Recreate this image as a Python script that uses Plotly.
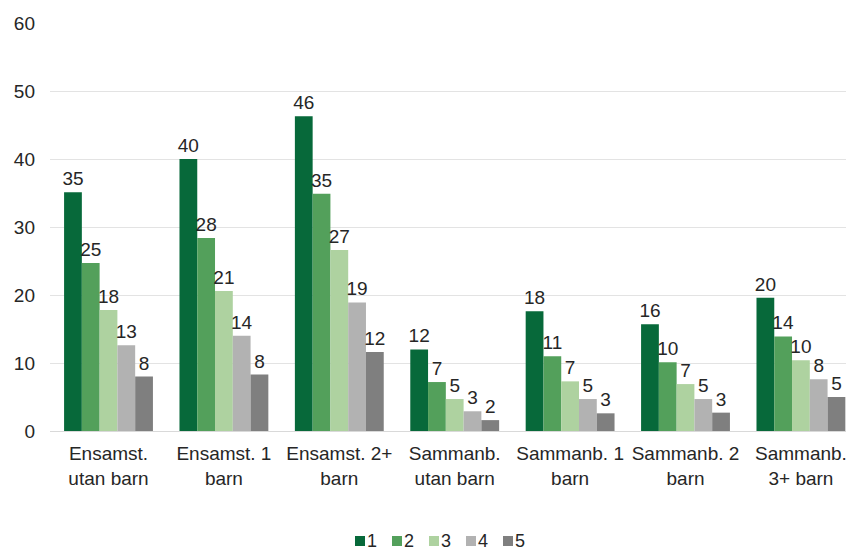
import plotly.graph_objects as go

categories = ["Ensamst.<br>utan barn", "Ensamst. 1<br>barn", "Ensamst. 2+<br>barn",
              "Sammanb.<br>utan barn", "Sammanb. 1<br>barn", "Sammanb. 2<br>barn",
              "Sammanb.<br>3+ barn"]
series_names = ["1", "2", "3", "4", "5"]
s1 = [35.1, 40.0, 46.3, 12.0, 17.6, 15.7, 19.6]
s2 = [24.7, 28.4, 34.9, 7.2, 11.0, 10.1, 13.9]
s3 = [17.8, 20.6, 26.6, 4.7, 7.3, 6.9, 10.4]
s4 = [12.6, 14.0, 18.9, 2.9, 4.7, 4.7, 7.6]
s5 = [8.0, 8.3, 11.6, 1.6, 2.6, 2.7, 5.0]
colors = ["#07693A", "#53A05B", "#AED2A0", "#B2B2B2", "#7F7F7F"]

font_family = "Liberation Sans, Arial, sans-serif"
text_color = "#262626"
FS = 19
LFS = 18

# page body has an 8px margin; figure is sized to fill the remaining window
OFF = 8
W, H = 854 - OFF, 552 - OFF
ML, MT = 50 - OFF, 23 - OFF
MR = 0
MB = H - (431 - OFF)
PW, PH = W - ML - MR, H - MT - MB

def px_x(px):
    return (px - OFF - ML) / PW

def px_y(py):
    return (H - MB - (py - OFF)) / PH

fig = go.Figure()
for name, vals, col in zip(series_names, [s1, s2, s3, s4, s5], colors):
    fig.add_trace(go.Bar(
        x=categories, y=vals, name=name,
        marker=dict(color=col, line=dict(width=0)),
        texttemplate="%{y:.0f}", textposition="outside",
        textfont=dict(size=FS, color=text_color, family=font_family),
        constraintext="none", cliponaxis=False,
        hoverinfo="skip", showlegend=False,
    ))

# compact legend
legend_x0 = 355
legend_pitch = 37
legend_cy = 541
shapes = []
annotations = []
for i, (name, col) in enumerate(zip(series_names, colors)):
    sx = legend_x0 + i * legend_pitch
    shapes.append(dict(type="rect", xref="paper", yref="paper",
                       x0=px_x(sx), x1=px_x(sx + 10),
                       y0=px_y(legend_cy + 5), y1=px_y(legend_cy - 5),
                       fillcolor=col, line=dict(width=0)))
    annotations.append(dict(xref="paper", yref="paper", x=px_x(sx + 11),
                            y=px_y(legend_cy), xanchor="left", yanchor="middle",
                            text=name, showarrow=False, borderpad=0,
                            font=dict(size=LFS, color=text_color, family=font_family)))

fig.update_layout(
    width=W, height=H,
    margin=dict(l=ML, r=MR, t=MT, b=MB, pad=0, autoexpand=False),
    paper_bgcolor="white", plot_bgcolor="white",
    barmode="group", bargap=0.23, bargroupgap=0,
    font=dict(family=font_family, size=FS, color=text_color),
    showlegend=False,
    shapes=shapes, annotations=annotations,
)
fig.update_xaxes(
    range=[-0.507, 6.46], showgrid=False, showline=False, ticks="",
    tickfont=dict(size=FS, color=text_color), ticklabelstandoff=9,
    automargin=False,
)
fig.update_yaxes(
    range=[0, 60], tickvals=[0, 10, 20, 30, 40, 50, 60],
    showgrid=True, gridcolor="#E3E3E3", gridwidth=1,
    zeroline=True, zerolinecolor="#D9D9D9", zerolinewidth=1,
    showline=False, ticks="", tickfont=dict(size=FS, color=text_color),
    ticklabelstandoff=14, automargin=False,
)

fig.write_html("out.html")
